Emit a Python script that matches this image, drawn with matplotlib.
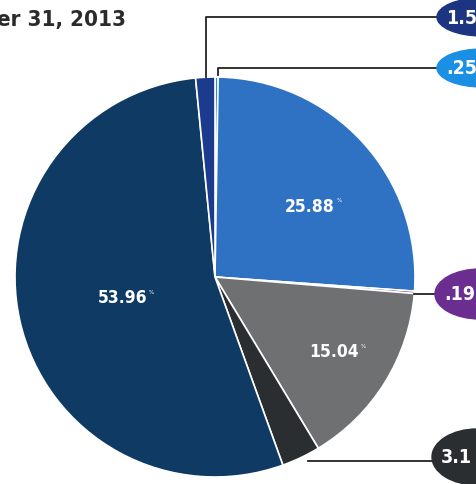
import matplotlib.pyplot as plt
from matplotlib.patches import Ellipse

# slices clockwise from 12 o'clock
shares = [0.25, 25.88, 0.19, 15.04, 3.13, 53.96, 1.55]
colors = ['#1a8fe3', '#2f72c4', '#6b2d8f', '#6e7072', '#2a2e31', '#0e3a64', '#1d3b8c']
inner_labels = {1: '25.88', 3: '15.04', 5: '53.96'}
badge_text = ['1.55', '.25', '.19', '3.1']
badge_color = ['#1d3580', '#1a8fe3', '#6b2d8f', '#2a2e31']

W, H = 477, 485
FONT = ['DejaVu Sans']

fig = plt.figure(figsize=(W / 100, H / 100), dpi=100)
ax = fig.add_axes([0, 0, 1, 1])
ax.axis('off')

cx, cy, r = 215, H - 278, 200
wedges, _ = ax.pie(shares, colors=colors, startangle=90, counterclock=False,
                   center=(cx, cy), radius=r,
                   wedgeprops=dict(edgecolor='white', linewidth=1.2))
ax.set_xlim(0, W)
ax.set_ylim(0, H)
ax.set_aspect('auto')

# labels inside the big slices (right end of the number)
label_end = {1: (335, 207), 3: (359, 352), 5: (147, 298)}
for i, txt in inner_labels.items():
    x, y = label_end[i]
    ax.text(x, H - y, txt, color='white', fontsize=12.5, fontweight='bold',
            family=FONT, stretch='condensed', ha='right', va='center')
    ax.text(x + 2, H - y + 6, '%', color='white', fontsize=4,
            family=FONT, ha='left', va='center')

# callouts on the right, cut by the page edge
badge_y = [18, 69, 295, 458]
badge_left = [437, 437, 435, 432]
badge_h = [38, 38, 50, 56]
for t, c, y, x0, h in zip(badge_text, badge_color, badge_y, badge_left, badge_h):
    ax.add_patch(Ellipse((x0 + 45, H - y), 90, h, color=c, zorder=3))
    ax.text(x0 + 9, H - y, t, color='white', fontsize=14, fontweight='bold',
            family=FONT, stretch='condensed', ha='left', va='center', zorder=4)

lw = 1.3
ax.plot([206, 206, 437], [H - 78, H - 18, H - 18], color='#222222', lw=lw)
ax.plot([218, 218, 437], [H - 76, H - 69, H - 69], color='#222222', lw=lw)
ax.plot([414, 435], [H - 295, H - 295], color='#222222', lw=lw)
ax.plot([308, 432], [H - 462, H - 462], color='#222222', lw=lw)

ax.text(-3, H - 20, 'er 31, 2013', color='#2b2b2b', fontsize=16,
        fontweight='bold', family=FONT, stretch='condensed',
        ha='left', va='center')

fig.savefig('out.png', dpi=100)
